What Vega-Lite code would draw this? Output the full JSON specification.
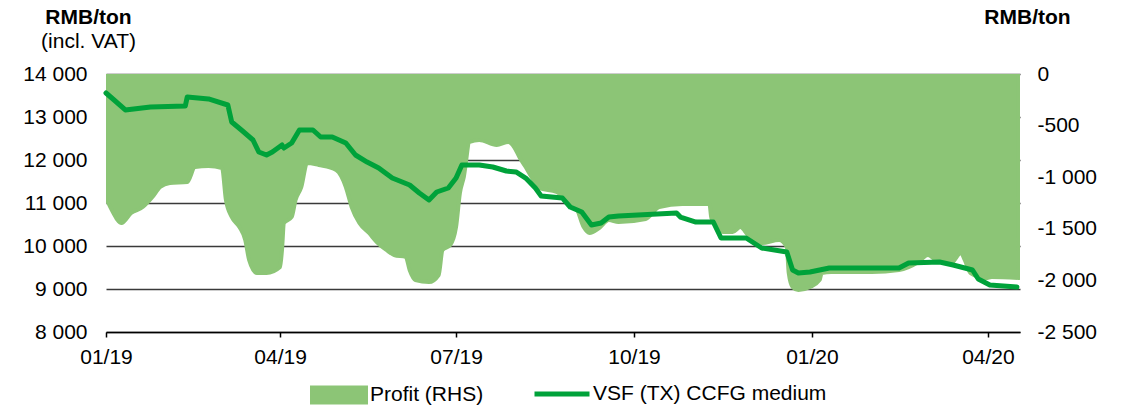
{
  "$schema": "https://vega.github.io/schema/vega-lite/v6.json",
  "width": 914,
  "height": 258,
  "autosize": {"type": "none"},
  "padding": {"left": 106, "top": 74, "right": 105, "bottom": 74},
  "background": "white",
  "config": {
    "view": {"stroke": null},
    "font": "Liberation Sans",
    "axis": {"labelFont": "Liberation Sans", "labelFontSize": 21, "labelColor": "black", "titleFont": "Liberation Sans", "titleColor": "black"}
  },
  "title": {
    "text": "RMB/ton",
    "subtitle": "(incl. VAT)",
    "anchor": "start",
    "frame": "group",
    "align": "center",
    "dx": -17.5,
    "offset": -46,
    "font": "Liberation Sans",
    "fontSize": 21,
    "fontWeight": "bold",
    "color": "black",
    "subtitleFont": "Liberation Sans",
    "subtitleFontSize": 21,
    "subtitleFontWeight": "normal",
    "subtitleColor": "black",
    "subtitlePadding": 3
  },
  "datasets": {
    "profit": [
      {"date": "2019-01-01", "profit": -1202},
      {"date": "2019-01-04", "profit": -1318},
      {"date": "2019-01-09", "profit": -1444},
      {"date": "2019-01-14", "profit": -1347},
      {"date": "2019-01-20", "profit": -1289},
      {"date": "2019-01-25", "profit": -1192},
      {"date": "2019-01-29", "profit": -1095},
      {"date": "2019-02-03", "profit": -1056},
      {"date": "2019-02-12", "profit": -1047},
      {"date": "2019-02-16", "profit": -901},
      {"date": "2019-02-23", "profit": -891},
      {"date": "2019-03-02", "profit": -911},
      {"date": "2019-03-04", "profit": -1221},
      {"date": "2019-03-07", "profit": -1386},
      {"date": "2019-03-11", "profit": -1483},
      {"date": "2019-03-14", "profit": -1609},
      {"date": "2019-03-16", "profit": -1802},
      {"date": "2019-03-20", "profit": -1928},
      {"date": "2019-03-25", "profit": -1928},
      {"date": "2019-04-01", "profit": -1870},
      {"date": "2019-04-02", "profit": -1705},
      {"date": "2019-04-03", "profit": -1444},
      {"date": "2019-04-07", "profit": -1386},
      {"date": "2019-04-09", "profit": -1221},
      {"date": "2019-04-12", "profit": -1095},
      {"date": "2019-04-15", "profit": -862},
      {"date": "2019-04-21", "profit": -882},
      {"date": "2019-04-30", "profit": -930},
      {"date": "2019-05-05", "profit": -1095},
      {"date": "2019-05-08", "profit": -1289},
      {"date": "2019-05-12", "profit": -1444},
      {"date": "2019-05-17", "profit": -1541},
      {"date": "2019-05-21", "profit": -1628},
      {"date": "2019-05-26", "profit": -1705},
      {"date": "2019-05-30", "profit": -1754},
      {"date": "2019-06-05", "profit": -1773},
      {"date": "2019-06-07", "profit": -1899},
      {"date": "2019-06-10", "profit": -1996},
      {"date": "2019-06-17", "profit": -2016},
      {"date": "2019-06-22", "profit": -1948},
      {"date": "2019-06-24", "profit": -1705},
      {"date": "2019-06-28", "profit": -1657},
      {"date": "2019-07-01", "profit": -1483},
      {"date": "2019-07-03", "profit": -1153},
      {"date": "2019-07-05", "profit": -998},
      {"date": "2019-07-08", "profit": -659},
      {"date": "2019-07-13", "profit": -640},
      {"date": "2019-07-22", "profit": -688},
      {"date": "2019-07-28", "profit": -659},
      {"date": "2019-07-31", "profit": -707},
      {"date": "2019-08-03", "profit": -814},
      {"date": "2019-08-06", "profit": -901},
      {"date": "2019-08-09", "profit": -998},
      {"date": "2019-08-13", "profit": -1105},
      {"date": "2019-08-22", "profit": -1143},
      {"date": "2019-08-27", "profit": -1221},
      {"date": "2019-09-01", "profit": -1289},
      {"date": "2019-09-05", "profit": -1483},
      {"date": "2019-09-08", "profit": -1541},
      {"date": "2019-09-13", "profit": -1492},
      {"date": "2019-09-18", "profit": -1415},
      {"date": "2019-09-23", "profit": -1434},
      {"date": "2019-10-07", "profit": -1405},
      {"date": "2019-10-14", "profit": -1289},
      {"date": "2019-10-26", "profit": -1260},
      {"date": "2019-11-09", "profit": -1260},
      {"date": "2019-11-10", "profit": -1395},
      {"date": "2019-11-16", "profit": -1531},
      {"date": "2019-11-21", "profit": -1531},
      {"date": "2019-11-25", "profit": -1483},
      {"date": "2019-11-29", "profit": -1560},
      {"date": "2019-12-06", "profit": -1638},
      {"date": "2019-12-15", "profit": -1609},
      {"date": "2019-12-19", "profit": -1676},
      {"date": "2019-12-20", "profit": -1928},
      {"date": "2019-12-22", "profit": -2064},
      {"date": "2019-12-25", "profit": -2093},
      {"date": "2019-12-31", "profit": -2064},
      {"date": "2020-01-05", "profit": -1996},
      {"date": "2020-01-06", "profit": -1928},
      {"date": "2020-01-11", "profit": -1919},
      {"date": "2020-02-01", "profit": -1919},
      {"date": "2020-02-15", "profit": -1899},
      {"date": "2020-02-25", "profit": -1822},
      {"date": "2020-03-01", "profit": -1754},
      {"date": "2020-03-05", "profit": -1802},
      {"date": "2020-03-13", "profit": -1831},
      {"date": "2020-03-18", "profit": -1734},
      {"date": "2020-03-20", "profit": -1802},
      {"date": "2020-03-23", "profit": -1928},
      {"date": "2020-03-31", "profit": -1977},
      {"date": "2020-04-03", "profit": -1967},
      {"date": "2020-04-17", "profit": -1977}
    ],
    "price": [
      {"date": "2019-01-01", "price": 13558},
      {"date": "2019-01-04", "price": 13442},
      {"date": "2019-01-11", "price": 13163},
      {"date": "2019-01-24", "price": 13233},
      {"date": "2019-02-11", "price": 13256},
      {"date": "2019-02-12", "price": 13465},
      {"date": "2019-02-23", "price": 13419},
      {"date": "2019-03-05", "price": 13279},
      {"date": "2019-03-07", "price": 12884},
      {"date": "2019-03-12", "price": 12698},
      {"date": "2019-03-18", "price": 12465},
      {"date": "2019-03-21", "price": 12186},
      {"date": "2019-03-25", "price": 12116},
      {"date": "2019-03-28", "price": 12186},
      {"date": "2019-04-02", "price": 12349},
      {"date": "2019-04-03", "price": 12279},
      {"date": "2019-04-07", "price": 12395},
      {"date": "2019-04-11", "price": 12698},
      {"date": "2019-04-18", "price": 12698},
      {"date": "2019-04-22", "price": 12535},
      {"date": "2019-04-28", "price": 12535},
      {"date": "2019-05-05", "price": 12395},
      {"date": "2019-05-10", "price": 12116},
      {"date": "2019-05-16", "price": 11953},
      {"date": "2019-05-22", "price": 11814},
      {"date": "2019-05-29", "price": 11581},
      {"date": "2019-06-07", "price": 11419},
      {"date": "2019-06-12", "price": 11233},
      {"date": "2019-06-17", "price": 11070},
      {"date": "2019-06-21", "price": 11256},
      {"date": "2019-06-27", "price": 11349},
      {"date": "2019-07-01", "price": 11581},
      {"date": "2019-07-04", "price": 11884},
      {"date": "2019-07-13", "price": 11884},
      {"date": "2019-07-20", "price": 11837},
      {"date": "2019-07-27", "price": 11744},
      {"date": "2019-08-01", "price": 11721},
      {"date": "2019-08-06", "price": 11581},
      {"date": "2019-08-11", "price": 11349},
      {"date": "2019-08-14", "price": 11163},
      {"date": "2019-08-25", "price": 11116},
      {"date": "2019-08-29", "price": 10907},
      {"date": "2019-09-04", "price": 10791},
      {"date": "2019-09-09", "price": 10488},
      {"date": "2019-09-14", "price": 10535},
      {"date": "2019-09-18", "price": 10674},
      {"date": "2019-09-23", "price": 10698},
      {"date": "2019-10-23", "price": 10767},
      {"date": "2019-10-25", "price": 10674},
      {"date": "2019-11-02", "price": 10558},
      {"date": "2019-11-11", "price": 10558},
      {"date": "2019-11-15", "price": 10186},
      {"date": "2019-11-28", "price": 10186},
      {"date": "2019-12-06", "price": 9953},
      {"date": "2019-12-19", "price": 9860},
      {"date": "2019-12-22", "price": 9442},
      {"date": "2019-12-25", "price": 9372},
      {"date": "2019-12-31", "price": 9395},
      {"date": "2020-01-10", "price": 9488},
      {"date": "2020-02-15", "price": 9488},
      {"date": "2020-02-20", "price": 9605},
      {"date": "2020-03-07", "price": 9628},
      {"date": "2020-03-14", "price": 9558},
      {"date": "2020-03-24", "price": 9442},
      {"date": "2020-03-27", "price": 9233},
      {"date": "2020-04-02", "price": 9093},
      {"date": "2020-04-16", "price": 9047}
    ]
  },
  "encoding": {
    "x": {
      "field": "date",
      "type": "temporal",
      "scale": {
        "type": "utc",
        "domain": [
          {"year": 2019, "month": 1, "date": 1, "utc": true},
          {"year": 2020, "month": 4, "date": 17, "hours": 14, "utc": true}
        ]
      },
      "axis": {
        "title": null,
        "grid": false,
        "format": "%m/%y",
        "values": [
          {"year": 2019, "month": 1, "date": 1, "utc": true},
          {"year": 2019, "month": 4, "date": 1, "utc": true},
          {"year": 2019, "month": 7, "date": 1, "utc": true},
          {"year": 2019, "month": 10, "date": 1, "utc": true},
          {"year": 2020, "month": 1, "date": 1, "utc": true},
          {"year": 2020, "month": 4, "date": 1, "utc": true}
        ],
        "domainColor": "black",
        "domainWidth": 1.5,
        "tickColor": "black",
        "tickWidth": 1.5,
        "tickSize": 5,
        "labelPadding": 9,
        "labelFlush": false,
        "labelOverlap": false
      }
    }
  },
  "layer": [
    {
      "data": {"name": "profit"},
      "mark": {
        "type": "area",
        "interpolate": "monotone",
        "stroke": "#8CC576",
        "strokeWidth": 4,
        "strokeJoin": "round",
        "clip": true,
        "opacity": 1
      },
      "encoding": {
        "y": {
          "field": "profit",
          "type": "quantitative",
          "scale": {"domain": [-2500, 0], "nice": false, "zero": false},
          "axis": {
            "orient": "right",
            "values": [0, -500, -1000, -1500, -2000, -2500],
            "labelExpr": "replace(replace(format(datum.value, ','), ',', ' '), '\u2212', '-')",
            "grid": false,
            "domain": false,
            "ticks": false,
            "labelPadding": 17,
            "title": "RMB/ton",
            "titleAngle": 0,
            "titleAlign": "center",
            "titleBaseline": "middle",
            "titleX": 7,
            "titleY": -57,
            "titleFontSize": 21,
            "titleFontWeight": "bold"
          }
        },
        "y2": {"datum": 0},
        "fill": {
          "datum": "Profit (RHS)",
          "type": "nominal",
          "scale": {"domain": ["Profit (RHS)"], "range": ["#8CC576"]},
          "legend": {
            "orient": "none",
            "legendX": 202,
            "legendY": 290,
            "title": null,
            "padding": 0,
            "labelFont": "Liberation Sans",
            "labelFontSize": 21,
            "labelColor": "black",
            "labelOffset": 0,
            "labelLimit": 400,
            "symbolType": "M-0.931,-0.259H0.931V0.259H-0.931Z",
            "symbolSize": 3364,
            "symbolStrokeWidth": 4,
            "symbolStrokeColor": "#8CC576",
            "symbolFillColor": "#8CC576",
            "symbolOpacity": 1
          }
        }
      }
    },
    {
      "data": {"name": "price"},
      "mark": {
        "type": "line",
        "strokeWidth": 5,
        "strokeJoin": "round",
        "strokeCap": "round"
      },
      "encoding": {
        "y": {
          "field": "price",
          "type": "quantitative",
          "scale": {"domain": [8000, 14000], "nice": false, "zero": false},
          "axis": {
            "orient": "left",
            "values": [8000, 9000, 10000, 11000, 12000, 13000, 14000],
            "labelExpr": "replace(format(datum.value, ','), ',', ' ')",
            "grid": true,
            "gridColor": "#3a3a3a",
            "gridWidth": 1.5,
            "domain": false,
            "ticks": false,
            "labelPadding": 19,
            "title": null
          }
        },
        "stroke": {
          "datum": "VSF (TX) CCFG medium",
          "type": "nominal",
          "scale": {"domain": ["VSF (TX) CCFG medium"], "range": ["#00A23A"]},
          "legend": {
            "orient": "none",
            "legendX": 426,
            "legendY": 290,
            "title": null,
            "padding": 0,
            "labelFont": "Liberation Sans",
            "labelFontSize": 21,
            "labelColor": "black",
            "labelOffset": 1,
            "labelLimit": 400,
            "symbolType": "stroke",
            "symbolSize": 3025,
            "symbolStrokeWidth": 5,
            "symbolStrokeColor": "#00A23A",
            "symbolOpacity": 1
          }
        }
      }
    }
  ],
  "resolve": {"scale": {"y": "independent"}}
}
